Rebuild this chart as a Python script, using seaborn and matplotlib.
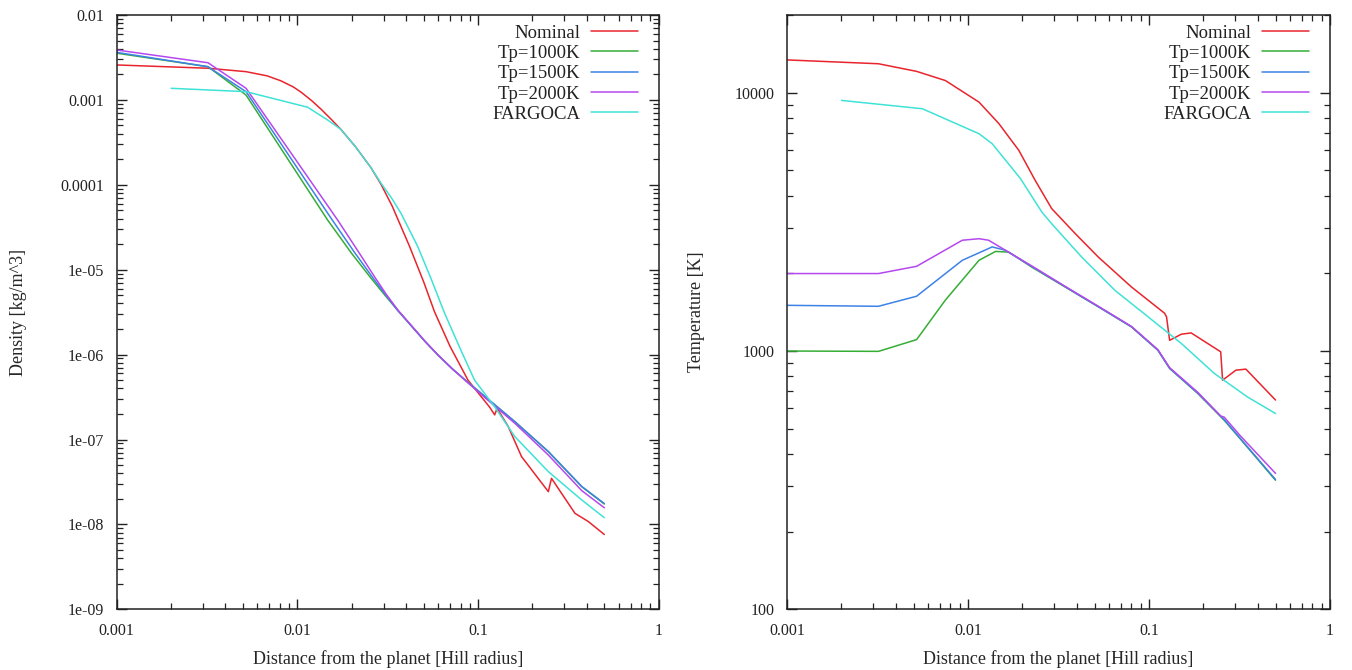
import pandas as pd
import matplotlib
matplotlib.use("Agg")
import matplotlib.pyplot as plt
import matplotlib.ticker as mticker
import seaborn as sns

# series names + colours (gnuplot-ish)
models = ["Nominal", "Tp=1000K", "Tp=1500K", "Tp=2000K", "FARGOCA"]
colors = ["#e8252d", "#35ad35", "#3d82e6", "#b548ee", "#3fe2d6"]

# ---- left panel: density [kg/m^3] vs distance [Hill radius]
dist_nominal_l = [0.001, 0.0032, 0.0052, 0.0068, 0.0081, 0.0095, 0.0105, 0.012, 0.0135, 0.0154,
                  0.0174, 0.021, 0.0255, 0.029, 0.0335, 0.0417, 0.05, 0.0574, 0.07, 0.088,
                  0.116, 0.1236, 0.1276, 0.147, 0.174, 0.245, 0.255, 0.344, 0.408, 0.5]
rho_nominal = [2.58e-3, 2.36e-3, 2.15e-3, 1.92e-3, 1.68e-3, 1.42e-3, 1.23e-3, 9.8e-4, 7.8e-4, 5.9e-4,
               4.5e-4, 2.8e-4, 1.6e-4, 1.02e-4, 5.6e-5, 1.9e-5, 7.2e-6, 3.2e-6, 1.25e-6, 5.0e-7,
               2.4e-7, 1.95e-7, 2.33e-7, 1.42e-7, 6.3e-8, 2.43e-8, 3.49e-8, 1.35e-8, 1.08e-8, 7.6e-9]

dist_tp1000_l = [0.001, 0.0032, 0.0052, 0.0147, 0.02, 0.0255, 0.0303, 0.036, 0.043, 0.051,
                 0.06, 0.072, 0.086, 0.104, 0.16, 0.245, 0.375, 0.5]
rho_tp1000 = [3.55e-3, 2.46e-3, 1.14e-3, 3.85e-5, 1.55e-5, 8.0e-6, 5.1e-6, 3.3e-6, 2.15e-6, 1.42e-6,
              9.9e-7, 6.8e-7, 4.9e-7, 3.5e-7, 1.62e-7, 7.2e-8, 2.78e-8, 1.74e-8]

dist_tp1500_l = [0.001, 0.0032, 0.0052, 0.0156, 0.0208, 0.0262, 0.0306, 0.036, 0.043, 0.051,
                 0.06, 0.072, 0.086, 0.104, 0.16, 0.245, 0.375, 0.5]
rho_tp1500 = [3.63e-3, 2.46e-3, 1.25e-3, 3.85e-5, 1.58e-5, 8.0e-6, 5.15e-6, 3.3e-6, 2.15e-6, 1.42e-6,
              9.9e-7, 6.8e-7, 4.9e-7, 3.5e-7, 1.62e-7, 7.2e-8, 2.8e-8, 1.76e-8]

dist_tp2000_l = [0.001, 0.0032, 0.0052, 0.0167, 0.0218, 0.027, 0.031, 0.036, 0.043, 0.051,
                 0.06, 0.072, 0.086, 0.104, 0.16, 0.245, 0.375, 0.5]
rho_tp2000 = [3.87e-3, 2.74e-3, 1.37e-3, 3.85e-5, 1.62e-5, 8.0e-6, 5.15e-6, 3.35e-6, 2.17e-6, 1.43e-6,
              9.9e-7, 6.8e-7, 4.85e-7, 3.4e-7, 1.55e-7, 6.56e-8, 2.5e-8, 1.57e-8]

dist_fargo_l = [0.002, 0.0052, 0.0114, 0.0147, 0.0174, 0.021, 0.0255, 0.029, 0.0335, 0.0375,
                0.0464, 0.055, 0.0652, 0.08, 0.0957, 0.1236, 0.16, 0.245, 0.375, 0.5]
rho_fargo = [1.37e-3, 1.25e-3, 8.2e-4, 5.8e-4, 4.5e-4, 2.8e-4, 1.6e-4, 1.05e-4, 6.8e-5, 4.6e-5,
             1.87e-5, 7.8e-6, 3.1e-6, 1.15e-6, 5.0e-7, 2.43e-7, 1.08e-7, 4.18e-8, 1.94e-8, 1.2e-8]

# ---- right panel: temperature [K] vs distance
dist_nominal_r = [0.001, 0.0032, 0.0052, 0.0075, 0.0115, 0.0148, 0.0191, 0.0235, 0.029, 0.0391,
                  0.0525, 0.080, 0.122, 0.125, 0.130, 0.151, 0.171, 0.249, 0.255, 0.302,
                  0.343, 0.5]
temp_nominal = [13400, 12950, 12100, 11150, 9200, 7600, 5980, 4580, 3560, 2850,
                2310, 1770, 1400, 1355, 1100, 1162, 1175, 993, 771, 843,
                851, 646]

dist_tp1000_r = [0.001, 0.0032, 0.0052, 0.0075, 0.0115, 0.0142, 0.0168, 0.0225, 0.0344, 0.0525,
                 0.080, 0.112, 0.130, 0.186, 0.26, 0.321, 0.5]
temp_tp1000 = [1000, 997, 1107, 1575, 2245, 2430, 2415, 2113, 1770, 1483,
               1240, 1007, 856, 685, 540, 455, 316]

dist_tp1500_r = [0.001, 0.0032, 0.0052, 0.0093, 0.0136, 0.0161, 0.0225, 0.0344, 0.0525,
                 0.080, 0.112, 0.130, 0.186, 0.26, 0.321, 0.5]
temp_tp1500 = [1503, 1490, 1630, 2245, 2530, 2455, 2125, 1775, 1485,
               1242, 1008, 858, 687, 543, 457, 318]

dist_tp2000_r = [0.001, 0.0032, 0.0052, 0.0093, 0.0115, 0.013, 0.0225, 0.0344, 0.0525,
                 0.080, 0.112, 0.130, 0.186, 0.249, 0.26, 0.321, 0.5]
temp_tp2000 = [1995, 1995, 2128, 2685, 2722, 2685, 2135, 1780, 1490,
               1245, 1012, 862, 692, 560, 555, 468, 336]

dist_fargo_r = [0.002, 0.0056, 0.0115, 0.0136, 0.0195, 0.0256, 0.029, 0.0425, 0.0648, 0.0989,
                0.151, 0.23, 0.35, 0.5]
temp_fargo = [9340, 8670, 6940, 6350, 4650, 3450, 3110, 2310, 1718, 1356,
              1069, 818, 664, 573]

x_ticks = [0.001, 0.01, 0.1, 1]
x_tick_labels = ["0.001", "0.01", "0.1", "1"]
rho_ticks = [1e-9, 1e-8, 1e-7, 1e-6, 1e-5, 1e-4, 1e-3, 1e-2]
rho_tick_labels = ["1e-09", "1e-08", "1e-07", "1e-06", "1e-05", "0.0001", "0.001", "0.01"]
temp_ticks = [100, 1000, 10000]
temp_tick_labels = ["100", "1000", "10000"]


def frame(dists, vals):
    parts = [pd.DataFrame({"dist": d, "val": v, "model": m}) for d, v, m in zip(dists, vals, models)]
    return pd.concat(parts, ignore_index=True)


df_rho = frame([dist_nominal_l, dist_tp1000_l, dist_tp1500_l, dist_tp2000_l, dist_fargo_l],
               [rho_nominal, rho_tp1000, rho_tp1500, rho_tp2000, rho_fargo])
df_temp = frame([dist_nominal_r, dist_tp1000_r, dist_tp1500_r, dist_tp2000_r, dist_fargo_r],
                [temp_nominal, temp_tp1000, temp_tp1500, temp_tp2000, temp_fargo])

sns.set_style("ticks")
plt.rcParams["font.family"] = ["Liberation Serif", "DejaVu Serif"]
plt.rcParams["text.color"] = "#222222"

fig = plt.figure(figsize=(13.52, 6.70), dpi=100)
ax1 = fig.add_axes([116.7 / 1352, 1 - 609.3 / 670, 542 / 1352, 594.3 / 670])
ax2 = fig.add_axes([787 / 1352, 1 - 609.3 / 670, 543 / 1352, 594.3 / 670])

pal = dict(zip(models, colors))

for ax, df, yl, ylim, ticks, labels, ylab_x in [
        (ax1, df_rho, "Density [kg/m^3]", (1e-9, 1e-2), rho_ticks, rho_tick_labels, -0.182),
        (ax2, df_temp, "Temperature [K]", (100, 20000), temp_ticks, temp_tick_labels, -0.166)]:
    sns.lineplot(data=df, x="dist", y="val", hue="model", hue_order=models, palette=pal,
                 estimator=None, sort=False, lw=1.1, legend=False, ax=ax)
    ax.set_xscale("log")
    ax.set_yscale("log")
    ax.set_xlim(0.001, 1)
    ax.set_ylim(*ylim)
    ax.set_xticks(x_ticks, x_tick_labels)
    ax.set_yticks(ticks, labels)
    ax.xaxis.set_minor_locator(mticker.LogLocator(base=10, subs=range(2, 10)))
    ax.yaxis.set_minor_locator(mticker.LogLocator(base=10, subs=range(2, 10)))
    ax.xaxis.set_minor_formatter(mticker.NullFormatter())
    ax.yaxis.set_minor_formatter(mticker.NullFormatter())
    ax.tick_params(which="both", direction="in", top=True, right=True, colors="#222222",
                   labelsize=11.5)
    ax.tick_params(which="major", length=7, width=1.0)
    ax.tick_params(which="minor", length=4, width=0.9)
    ax.tick_params(axis="x", pad=10)
    ax.tick_params(axis="y", pad=9)
    for s in ax.spines.values():
        s.set_color("#222222")
        s.set_linewidth(1.1)
    ax.set_xlabel("Distance from the planet [Hill radius]", fontsize=13, va="center")
    ax.xaxis.set_label_coords(0.5, -0.0836)
    ax.set_ylabel(yl, fontsize=13, va="center")
    ax.yaxis.set_label_coords(ylab_x, 0.5)
    ax.legend(ax.get_lines(), models, loc="upper right", bbox_to_anchor=(0.962, 0.984),
              frameon=False, markerfirst=False, fontsize=13.5, handlelength=2.5,
              handletextpad=0.6, labelspacing=0.17, borderpad=0, borderaxespad=0)

fig.savefig("out.png", dpi=100)
